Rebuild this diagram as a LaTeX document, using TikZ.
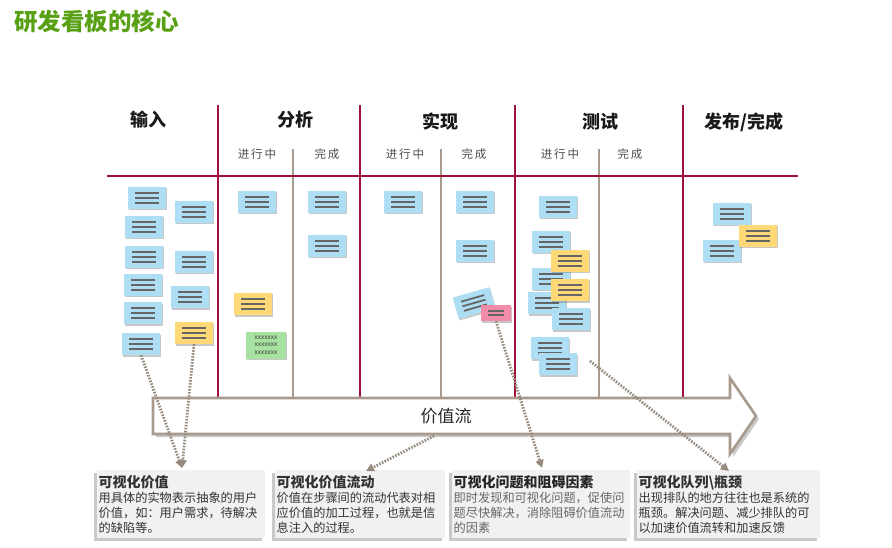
\documentclass[tikz,border=0pt]{standalone}
\usepackage{fontspec}
\setmainfont{Noto Sans CJK SC}
\usetikzlibrary{arrows.meta,shadows}
\definecolor{kred}{RGB}{160,16,60}
\definecolor{kgray}{RGB}{168,154,140}
\definecolor{kdot}{RGB}{150,138,126}
\definecolor{kblue}{RGB}{174,222,243}
\definecolor{kyellow}{RGB}{255,216,120}
\definecolor{kgreen}{RGB}{168,226,160}
\definecolor{kpink}{RGB}{240,140,170}
\definecolor{kbox}{RGB}{241,241,241}
\definecolor{ktitle}{RGB}{88,160,20}
\newcommand\kcardlines[1][24pt]{\vbox{\offinterlineskip
  \hbox{\textcolor{black!60}{\rule{#1}{1.8pt}}}\vskip3pt
  \hbox{\textcolor{black!60}{\rule{#1}{1.8pt}}}\vskip3pt
  \hbox{\textcolor{black!60}{\rule{#1}{1.8pt}}}}}
\newcommand\kpinklines{\vbox{\offinterlineskip
  \hbox{\textcolor{black!60}{\rule{16pt}{1.6pt}}}\vskip2.8pt
  \hbox{\textcolor{black!60}{\rule{16pt}{1.6pt}}}}}
\newcommand\kxlines{\vbox{\fontsize{6.5}{7.5}\selectfont\color{black!75}\hbox{xxxxxxx}\hbox{xxxxxxx}\hbox{xxxxxxx}}}
\tikzset{
  card/.style={minimum width=38pt,minimum height=22pt,inner sep=0pt,
    drop shadow={shadow xshift=1pt,shadow yshift=-1.5pt,opacity=.3,fill=black!70}},
  bcard/.style={card,fill=kblue},
  ycard/.style={card,fill=kyellow},
  gcard/.style={card,fill=kgreen,minimum width=40pt,minimum height=27pt},
  pcard/.style={card,fill=kpink,minimum width=30pt,minimum height=16pt},
  colhead/.style={font=\fontsize{18}{20}\selectfont\bfseries,text=black!90},
  subhead/.style={font=\fontsize{11.5}{13}\selectfont,text=black!70},
  redline/.style={draw=kred,line width=2.4pt},
  grayline/.style={draw=kgray,line width=1.8pt},
  conn/.style={draw=kdot,line width=2.8pt,dash pattern=on 1.6pt off 1.4pt,
    -{Triangle[length=8pt,width=8pt]}},
  infobox/.style={fill=kbox,anchor=north west,inner xsep=1.5pt,inner ysep=2pt,
    minimum height=68pt,align=left,
    font=\fontsize{12.2}{15}\selectfont,
    drop shadow={shadow xshift=-3pt,shadow yshift=-3pt,opacity=.35,fill=black!60}}
}
\newcommand\kbt[1]{{\fontsize{14}{15}\selectfont\bfseries #1}}
\begin{document}
\begin{tikzpicture}[x=1pt,y=-1pt]
\useasboundingbox[fill=white] (0,0) rectangle (892,548);
% title
\node[anchor=west,text=ktitle,font=\fontsize{23.5}{26}\selectfont\bfseries,inner sep=0pt] (title) at (14,22) {研发看板的核心};
% column headers
\node[colhead] (h1) at (148,120) {输入};
\node[colhead] (h2) at (295,120) {分析};
\node[colhead] (h3) at (440,122) {实现};
\node[colhead] (h4) at (600,122) {测试};
\node[colhead] (h5) at (744,122) {发布/完成};
\node[subhead] (s1) at (257,154) {进\,行\,中};
\node[subhead] (s2) at (327,154) {完\,成};
\node[subhead] (s3) at (405,154) {进\,行\,中};
\node[subhead] (s4) at (474,154) {完\,成};
\node[subhead] (s5) at (560,154) {进\,行\,中};
\node[subhead] (s6) at (630,154) {完\,成};
% board lines
\foreach \x in {293,441,599} \draw[grayline] (\x,149) -- (\x,398);
\foreach \x in {218,360,515,683} \draw[redline] (\x,105) -- (\x,398);
\draw[redline] (107,176) -- (798,176);
% value stream arrow
\draw[kgray,line width=2.6pt,fill=white,line join=miter,
  drop shadow={shadow xshift=3pt,shadow yshift=-3pt,opacity=.35,fill=black!60}]
  (153,398) -- (730,398) -- (730,378) -- (756,416) -- (730,454) -- (730,434) -- (153,434) -- cycle;
\node[font=\fontsize{17}{19}\selectfont,text=black!85] (vsl) at (446,416) {价值流};
% input cards
\node[bcard] (c1) at (147,198) {\kcardlines};
\node[bcard] (c2) at (194,212) {\kcardlines};
\node[bcard] (c3) at (144,227) {\kcardlines};
\node[bcard] (c4) at (144,257) {\kcardlines};
\node[bcard] (c5) at (194,262) {\kcardlines};
\node[bcard] (c6) at (143,285) {\kcardlines};
\node[bcard] (c7) at (190,297) {\kcardlines};
\node[bcard] (c8) at (143,313) {\kcardlines};
\node[ycard] (c9) at (194,333) {\kcardlines};
\node[bcard] (c10) at (141,344) {\kcardlines};
% analysis
\node[bcard] (a1) at (257,202) {\kcardlines};
\node[ycard] (a2) at (253,304) {\kcardlines};
\node[gcard] (a3) at (266,345) {\kxlines};
\node[bcard] (a4) at (327,202) {\kcardlines};
\node[bcard] (a5) at (327,246) {\kcardlines};
% implementation
\node[bcard] (i1) at (403,202) {\kcardlines};
\node[bcard] (i2) at (475,202) {\kcardlines};
\node[bcard] (i3) at (475,251) {\kcardlines};
\node[bcard,rotate=16] (i4) at (474,303) {\kcardlines};
\node[pcard] (pink) at (496,313) {\kpinklines};
% testing
\node[bcard] (t1) at (558,207) {\kcardlines};
\node[bcard] (t2) at (551,242) {\kcardlines};
\node[bcard] (t3) at (551,279) {\kcardlines};
\node[bcard] (t4) at (547,303) {\kcardlines};
\node[ycard] (t5) at (570,261) {\kcardlines};
\node[ycard] (t6) at (570,290) {\kcardlines};
\node[bcard] (t7) at (571,319) {\kcardlines};
\node[bcard] (t8) at (550,348) {\kcardlines};
\node[bcard] (t9) at (558,364) {\kcardlines};
% release
\node[bcard] (r1) at (732,214) {\kcardlines};
\node[bcard] (r2) at (722,251) {\kcardlines};
\node[ycard] (r3) at (758,236) {\kcardlines};
% info boxes
\node[infobox,minimum width=168pt,text width=165pt,text=black!80] (box1) at (97,470)
  {\kbt{可视化价值}\\用具体的实物表示抽象的用户\\价值，如：用户需求，待解决\\的缺陷等。};
\node[infobox,minimum width=170pt,text width=167pt,text=black!80] (box2) at (275,470)
  {\kbt{可视化价值流动}\\价值在步骤间的流动代表对相\\应价值的加工过程，也就是信\\息注入的过程。};
\node[infobox,minimum width=178pt,text width=175pt,text=black!60] (box3) at (452,470)
  {\textcolor{black!85}{\kbt{可视化问题和阻碍因素}}\\即时发现和可视化问题，促使问\\题尽快解决，消除阻碍价值流动\\的因素};
\node[infobox,minimum width=183pt,text width=180pt,text=black!80] (box4) at (637,470)
  {\kbt{可视化队列\textbackslash 瓶颈}\\出现排队的地方往往也是系统的\\瓶颈。解决问题、减少排队的可\\以加速价值流转和加速反馈};
% connectors
\coordinate (e1) at (182,468);
\coordinate (vs) at (434,436);
\coordinate (e2) at (366,471);
\coordinate (e3) at (542,468);
\coordinate (q1) at (590,361);
\coordinate (e4) at (729,471);
\draw[conn] (c10.south) -- (e1);
\draw[conn] (c9.south) -- (e1);
\draw[conn] (vs) -- (e2);
\draw[conn] (pink.south) -- (e3);
\draw[conn] (q1) -- (e4);
\end{tikzpicture}
\end{document}
